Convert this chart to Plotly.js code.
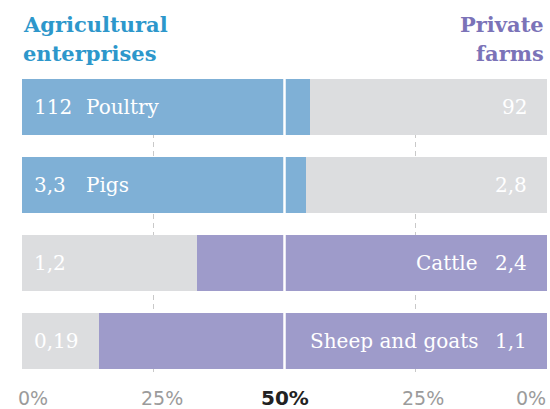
<!DOCTYPE html>
<html>
<head>
<meta charset="utf-8">
<script src="https://cdn.plot.ly/plotly-3.0.1.min.js"></script>
<style>html,body{margin:0;padding:0;background:#fff;}#chart{width:550px;height:409px;}</style>
</head>
<body>
<div id="chart"></div>
<script>
// ---- data ----
const categories = ["Poultry", "Pigs", "Cattle", "Sheep and goats"];
const enterprises = [112, 3.3, 1.2, 0.19];
const privateFarms = [92, 2.8, 2.4, 1.1];
const enterpriseLabels = ["112", "3,3", "1,2", "0,19"];
const privateLabels = ["92", "2,8", "2,4", "1,1"];
const tickLabels = ["0%", "25%", "50%", "25%", "0%"];
const tickValues = [0, 25, 50, 75, 100];

// ---- styles ----
const BLUE = "#7fb0d6", PURPLE = "#9e9bca", GREY = "#dcdddf";
const serif = "DejaVu Serif";

const entShare = enterprises.map((e, i) => e / (e + privateFarms[i]) * 100);
const privShare = entShare.map(s => 100 - s);
const yIdx = categories.map((c, i) => i);

const traces = [
  {
    type: "bar", orientation: "h", y: yIdx, x: entShare,
    marker: {color: enterprises.map((e, i) => e > privateFarms[i] ? BLUE : GREY), line: {width: 0}},
    hoverinfo: "skip", showlegend: false
  },
  {
    type: "bar", orientation: "h", y: yIdx, x: privShare,
    marker: {color: privateFarms.map((p, i) => p > enterprises[i] ? PURPLE : GREY), line: {width: 0}},
    hoverinfo: "skip", showlegend: false
  }
];

const annotations = [];
const labelFont = {family: serif, size: 20, color: "#ffffff"};
categories.forEach((c, i) => {
  const entBig = enterprises[i] > privateFarms[i];
  annotations.push({xref: "paper", yref: "y", x: 0, y: i, xanchor: "left", yanchor: "middle",
    xshift: 10, text: enterpriseLabels[i], showarrow: false, font: labelFont});
  annotations.push({xref: "paper", yref: "y", x: 1, y: i, xanchor: "right", yanchor: "middle",
    xshift: -18, text: privateLabels[i], showarrow: false, font: labelFont});
  if (entBig) {
    annotations.push({xref: "paper", yref: "y", x: 0, y: i, xanchor: "left", yanchor: "middle",
      xshift: 62, text: c, showarrow: false, font: labelFont});
  } else {
    annotations.push({xref: "paper", yref: "y", x: 1, y: i, xanchor: "right", yanchor: "middle",
      xshift: -67, text: c, showarrow: false, font: labelFont});
  }
});

// bottom scale labels
const tickShift = [11, 9, 0, 7, -16];
tickLabels.forEach((t, i) => {
  const mid = i === 2;
  annotations.push({xref: "x", yref: "paper", x: tickValues[i], y: 0, xanchor: "center", yanchor: "middle",
    xshift: tickShift[i], yshift: -23, text: mid ? "<b>" + t + "</b>" : t, showarrow: false,
    font: {family: "DejaVu Sans", size: mid ? 20 : 19, color: mid ? "#222222" : "#9b9b9b"}});
});

// headings
const titleFontL = {family: serif, size: 21, color: "#2d97cb"};
const titleFontR = {family: serif, size: 21, color: "#7b73b8"};
annotations.push({xref: "paper", yref: "paper", x: 0, y: 1, xanchor: "left", yanchor: "middle", yshift: 55, xshift: -1,
  text: "<b>Agricultural</b>", showarrow: false, font: titleFontL});
annotations.push({xref: "paper", yref: "paper", x: 0, y: 1, xanchor: "left", yanchor: "middle", yshift: 26, xshift: -1,
  text: "<b>enterprises</b>", showarrow: false, font: titleFontL});
annotations.push({xref: "paper", yref: "paper", x: 1, y: 1, xanchor: "right", yanchor: "middle", yshift: 55, xshift: -1,
  text: "<b>Private</b>", showarrow: false, font: titleFontR});
annotations.push({xref: "paper", yref: "paper", x: 1, y: 1, xanchor: "right", yanchor: "middle", yshift: 26, xshift: -1,
  text: "<b>farms</b>", showarrow: false, font: titleFontR});

const layout = {
  width: 550, height: 409,
  margin: {l: 22, r: 3, t: 79, b: 34, pad: 0},
  paper_bgcolor: "#ffffff", plot_bgcolor: "#ffffff",
  barmode: "stack", bargap: 0.282,
  xaxis: {range: [0, 100], tickvals: [25, 75], showticklabels: false, ticks: "",
    showgrid: true, gridcolor: "#c9c9c9", gridwidth: 1, griddash: "5px,4px",
    zeroline: false, showline: false, fixedrange: true},
  yaxis: {type: "linear", range: [3.436, -0.359], showticklabels: false, ticks: "", showgrid: false,
    zeroline: false, showline: false, fixedrange: true},
  shapes: [{type: "line", xref: "x", yref: "paper", x0: 50, x1: 50, y0: 0, y1: 1,
    line: {color: "#ffffff", width: 2.5}, layer: "above"}],
  annotations: annotations,
  showlegend: false
};

Plotly.newPlot("chart", traces, layout, {staticPlot: true, displayModeBar: false});
</script>
</body>
</html>
